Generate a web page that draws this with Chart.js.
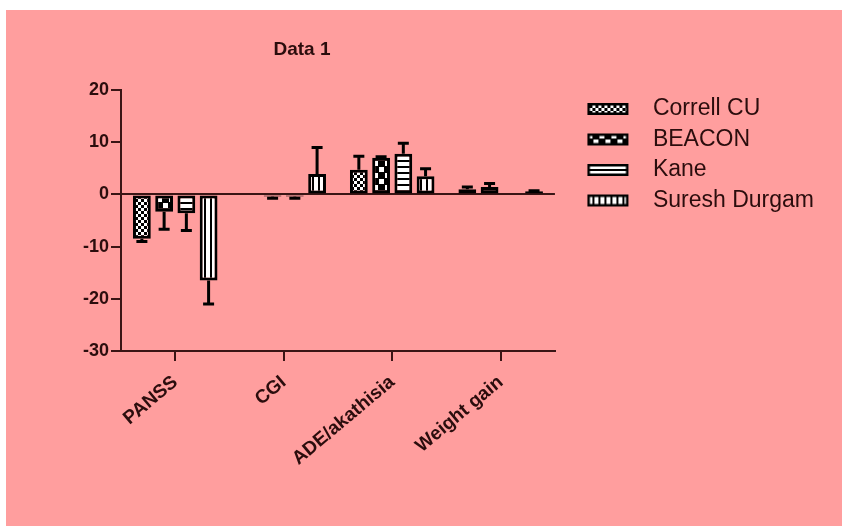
<!DOCTYPE html>
<html>
<head>
<meta charset="utf-8">
<script src="https://cdn.jsdelivr.net/npm/chart.js@4/dist/chart.umd.min.js"></script>
<style>
  body { margin: 0; background: #ffffff; }
  #wrap { position: absolute; left: 6px; top: 10px; width: 836px; height: 516px; background: #ff9e9e; }
</style>
</head>
<body>
<div id="wrap"><canvas id="myChart"></canvas></div>
<script>
const categories = ['PANSS', 'CGI', 'ADE/akathisia', 'Weight gain'];
const seriesNames = ['Correll CU', 'BEACON', 'Kane', 'Suresh Durgam'];

const correllValues = [-8.5, null, 4.7, 1.0];
const correllErrors = [0.5, null, 2.6, 0.4];
const beaconValues = [-3.3, -0.4, 7.0, 1.4];
const beaconErrors = [3.4, 0.35, 0.2, 0.7];
const kaneValues = [-3.6, -0.4, 7.8, null];
const kaneErrors = [3.3, 0.35, 2.0, null];
const sureshValues = [-16.5, 3.9, 3.5, 0.6];
const sureshErrors = [4.5, 5.1, 1.4, 0.1];

const yTicks = [20, 10, 0, -10, -20, -30];

const textColor = '#2b0d0d';
const axisColor = '#3a1515';
const fontFamily = "Arial, 'Liberation Sans', sans-serif";

// pattern tiles for the bar fills
function makeTile(w, h, draw) {
  const c = document.createElement('canvas');
  c.width = w; c.height = h;
  const g = c.getContext('2d');
  g.fillStyle = '#ffffff';
  g.fillRect(0, 0, w, h);
  g.fillStyle = '#000000';
  draw(g);
  return c;
}

const tiles = [
  makeTile(6, 6, g => { g.fillRect(0, 0, 3, 3); g.fillRect(3, 3, 3, 3); }),
  makeTile(12, 12, g => { g.fillRect(0, 0, 12, 12); g.fillStyle = '#ffffff'; g.fillRect(1, 1, 5, 5); g.fillRect(7, 7, 5, 5); }),
  makeTile(6, 6, g => { g.fillRect(0, 0, 6, 2); }),
  makeTile(6, 6, g => { g.fillRect(0, 0, 2, 6); })
];

const canvas = document.getElementById('myChart');
const ctx = canvas.getContext('2d');
const patterns = tiles.map(t => ctx.createPattern(t, 'repeat'));

// legend icons: transparent left margin, boxed pattern
const legendIcons = tiles.map(t => {
  const c = document.createElement('canvas');
  c.width = 79; c.height = 14;
  const g = c.getContext('2d');
  g.fillStyle = g.createPattern(t, 'repeat');
  g.fillRect(25, 1, 41, 12);
  g.strokeStyle = '#000000';
  g.lineWidth = 2.5;
  g.strokeRect(26.25, 2.25, 38.5, 9.5);
  return c;
});

const allValues = [correllValues, beaconValues, kaneValues, sureshValues];
const allErrors = [correllErrors, beaconErrors, kaneErrors, sureshErrors];

const errorBars = {
  id: 'errorBars',
  afterDatasetsDraw(chart) {
    const c = chart.ctx;
    const y = chart.scales.y;
    chart.data.datasets.forEach((ds, i) => {
      const meta = chart.getDatasetMeta(i);
      meta.data.forEach((bar, j) => {
        const v = allValues[i][j];
        const e = allErrors[i][j];
        if (v == null || e == null) return;
        const end = y.getPixelForValue(v < 0 ? v - e : v + e);
        c.save();
        c.strokeStyle = '#000000';
        c.lineWidth = 3;
        c.beginPath();
        c.moveTo(bar.x, bar.y);
        c.lineTo(bar.x, end);
        c.moveTo(bar.x - 5.5, end);
        c.lineTo(bar.x + 5.5, end);
        c.stroke();
        c.restore();
      });
    });
  }
};

const titleText = {
  id: 'titleText',
  afterDraw(chart) {
    const c = chart.ctx;
    c.save();
    c.font = 'bold 19px ' + fontFamily;
    c.fillStyle = textColor;
    c.textAlign = 'center';
    c.textBaseline = 'alphabetic';
    c.fillText('Data 1', chart.chartArea.left + 181, 45);
    c.restore();
  }
};

new Chart(ctx, {
  type: 'bar',
  data: {
    labels: categories,
    datasets: allValues.map((vals, i) => ({
      label: seriesNames[i],
      data: vals,
      backgroundColor: patterns[i],
      borderColor: '#000000',
      borderWidth: 3,
      borderSkipped: false,
      categoryPercentage: 0.82,
      barPercentage: 0.8
    }))
  },
  options: {
    responsive: true,
    maintainAspectRatio: false,
    animation: false,
    layout: { padding: { top: 80, left: 0, right: 18, bottom: 0 } },
    scales: {
      x: {
        afterFit: s => { s.height = 175; },
        grid: { offset: false, drawOnChartArea: false, tickColor: axisColor, tickLength: 10, lineWidth: 2 },
        border: { color: axisColor, width: 2 },
        ticks: {
          color: textColor,
          font: { family: fontFamily, size: 19, weight: 'bold' },
          minRotation: 40,
          maxRotation: 40,
          padding: 10
        }
      },
      y: {
        min: -30,
        max: 20,
        afterFit: s => { s.width = 115; },
        afterBuildTicks: s => { s.ticks = yTicks.map(v => ({ value: v })); },
        grid: {
          color: c => (c.tick && c.tick.value === 0 ? axisColor : 'transparent'),
          tickColor: axisColor,
          tickLength: 10,
          lineWidth: 2
        },
        border: { color: axisColor, width: 2 },
        ticks: {
          color: textColor,
          font: { family: fontFamily, size: 18, weight: 'bold' },
          padding: 2
        }
      }
    },
    plugins: {
      title: { display: false },
      tooltip: { enabled: false },
      legend: {
        position: 'right',
        align: 'start',
        maxWidth: 320,
        labels: {
          usePointStyle: true,
          pointStyleWidth: 79,
          padding: 7.5,
          color: textColor,
          font: { family: fontFamily, size: 23 },
          generateLabels: chart => chart.data.datasets.map((ds, i) => ({
            text: ds.label,
            pointStyle: legendIcons[i],
            datasetIndex: i,
            hidden: false,
            lineWidth: 0,
            fillStyle: 'transparent',
            strokeStyle: 'transparent',
            fontColor: textColor
          }))
        }
      }
    }
  },
  plugins: [errorBars, titleText]
});
</script>
</body>
</html>
